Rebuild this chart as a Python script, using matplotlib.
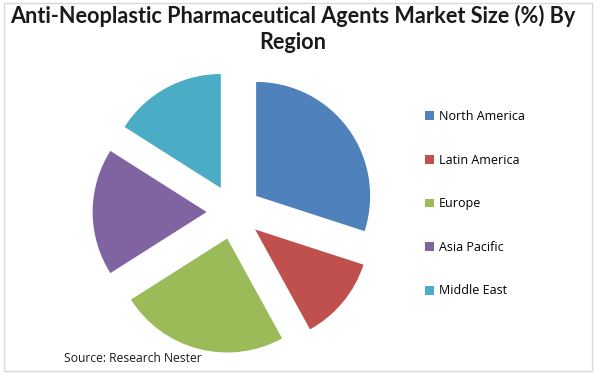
import matplotlib
matplotlib.use("Agg")
import matplotlib.pyplot as plt
from matplotlib.patches import Rectangle

regions = ["North America", "Latin America", "Europe", "Asia Pacific", "Middle East"]
shares = [30, 12, 24, 18, 16]
colors = ["#4F81BD", "#C0504D", "#9BBB59", "#8064A2", "#4BACC6"]
title = "Anti-Neoplastic Pharmaceutical Agents Market Size (%) By\nRegion"
source = "Source: Research Nester"

W, H = 600, 378
fig = plt.figure(figsize=(W / 100, H / 100), dpi=100)
fig.patch.set_facecolor("white")

# frame
fig.add_artist(Rectangle((4 / W, (H - 371) / H), 588 / W, 368 / H,
                         transform=fig.transFigure, fill=False,
                         edgecolor="#D9D9D9", linewidth=1))

# pie axes: 300x300 px centred at (234, 212)
ax = fig.add_axes([84 / W, (H - 362) / H, 300 / W, 300 / H])
r = 150 / 114
ax.set_xlim(-r, r)
ax.set_ylim(-r, r)
ax.set_aspect("equal")
ax.axis("off")
wedges, _ = ax.pie(shares, colors=colors, startangle=90, counterclock=False,
                   explode=[0.24] * len(shares), radius=1.0,
                   wedgeprops=dict(linewidth=0))
ax.set_xlim(-r, r)
ax.set_ylim(-r, r)

fig.text(293 / W, 1 - 29 / H, title, ha="center", va="center",
         fontsize=15.6, fontweight="bold", family="Lato", linespacing=1.3,
         color="#1a1a1a")

leg = fig.legend(wedges, regions, loc="upper left",
                 bbox_to_anchor=(420 / W, 1 - 105 / H),
                 frameon=False, handlelength=0.7, handleheight=0.7,
                 handletextpad=0.4, labelspacing=2.45, borderaxespad=0,
                 prop=dict(family="Open Sans", size=9))

fig.text(64 / W, 1 - 359 / H, source, ha="left", va="center",
         fontsize=8.7, family="Open Sans", color="#1a1a1a")

fig.savefig("out.png", dpi=100)
